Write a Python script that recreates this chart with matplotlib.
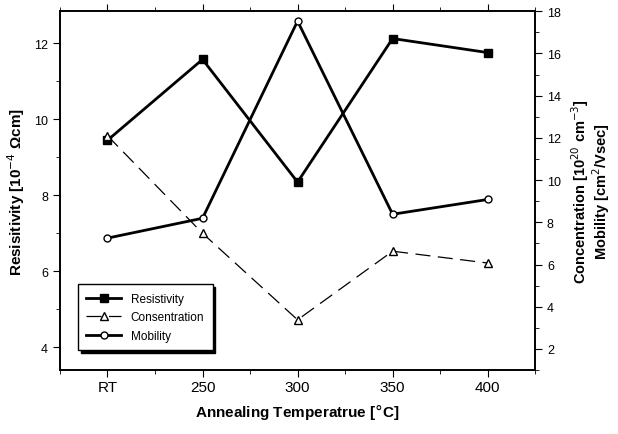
import matplotlib
matplotlib.use("Agg")
import matplotlib.pyplot as plt
from matplotlib.ticker import MultipleLocator

# values
temps = ["RT", "250", "300", "350", "400"]
resistivity = [9.45, 11.58, 8.35, 12.13, 11.76]      # 10^-4 ohm cm
concentration = [12.1, 7.48, 3.38, 6.63, 6.07]      # 10^20 cm^-3
mobility = [7.25, 8.19, 17.53, 8.38, 9.08]          # cm^2/Vsec

plt.rcParams['font.family'] = ['Liberation Sans', 'DejaVu Sans']

fig = plt.figure(figsize=(6.18, 4.35), dpi=100)
ax = fig.add_axes([0.097, 0.147, 0.769, 0.825])
ax2 = ax.twinx()

x = list(range(len(temps)))

l1, = ax.plot(x, resistivity, color='k', lw=2, marker='s', ms=6,
              mfc='k', mec='k', label='Resistivity')
l2, = ax2.plot(x, concentration, color='k', lw=0.9, ls=(0, (12, 6)),
               marker='^', ms=6, mfc='white', mec='k', mew=1, label='Consentration')
l3, = ax2.plot(x, mobility, color='k', lw=2, marker='o', ms=5,
               mfc='white', mec='k', mew=1, label='Mobility')

ax.set_xlim(-0.5, 4.5)
ax.set_ylim(3.4, 12.85)
ax2.set_ylim(1.0, 18.0)

ax.set_xticks(x)
ax.set_xticklabels(temps, fontsize=11)
ax.xaxis.set_minor_locator(MultipleLocator(0.5))
ax.yaxis.set_major_locator(MultipleLocator(2))
ax.yaxis.set_minor_locator(MultipleLocator(1))
ax2.yaxis.set_major_locator(MultipleLocator(2))
ax2.yaxis.set_minor_locator(MultipleLocator(1))

ax.tick_params(axis='y', which='both', direction='out', labelsize=9)
ax.tick_params(axis='y', which='major', length=5)
ax.tick_params(axis='y', which='minor', length=3)
ax.tick_params(axis='x', which='both', direction='out', top=True, pad=2)
ax.tick_params(axis='x', which='major', length=5)
ax.tick_params(axis='x', which='minor', length=3)
ax2.tick_params(axis='y', which='both', direction='out', labelsize=9)
ax2.tick_params(axis='y', which='major', length=5)
ax2.tick_params(axis='y', which='minor', length=3)
for a in (ax, ax2):
    for s in a.spines.values():
        s.set_linewidth(1.2)

ax.set_xlabel("Annealing Temperatrue [$\\degree$C]", fontsize=11,
              fontweight='bold', labelpad=5)
ax.set_ylabel("Resisitivity [10$^{-4}$ \u03a9cm]", fontsize=11,
              fontweight='bold', labelpad=5)
ax2.set_ylabel("Concentration [10$^{20}$ cm$^{-3}$]\nMobility [cm$^{2}$/Vsec]",
               fontsize=10.5, fontweight='bold', labelpad=6, linespacing=0.95)

leg = ax.legend(handles=[l1, l2, l3], loc='upper left',
                bbox_to_anchor=(0.025, 0.255), fontsize=8.5, frameon=True,
                fancybox=False, edgecolor='k', framealpha=1,
                shadow={'color': 'k', 'alpha': 1}, handlelength=3,
                borderpad=0.7, labelspacing=0.55)
leg.get_frame().set_linewidth(1)

fig.savefig("out.png", dpi=100)
